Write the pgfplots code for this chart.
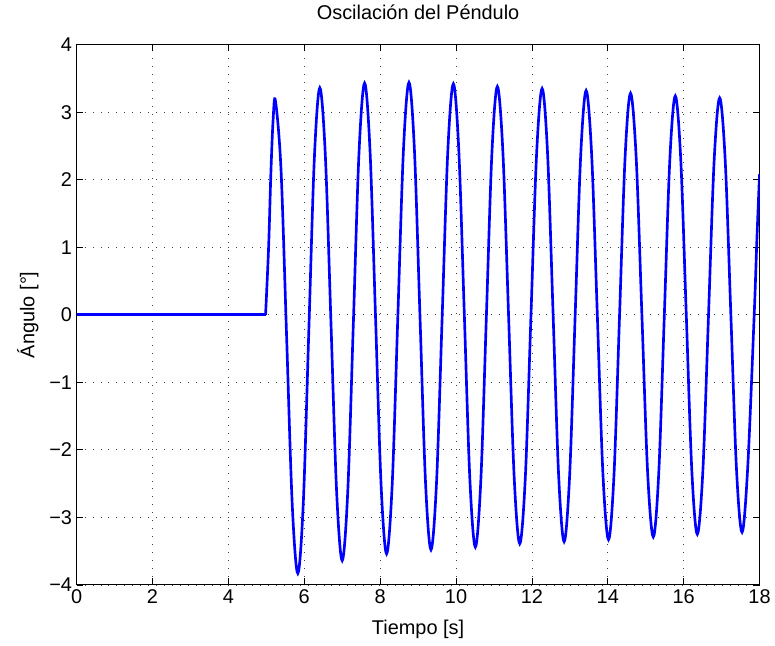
\documentclass[border=0pt]{standalone}
\usepackage{fontspec}
\setmainfont{Liberation Sans}
\usepackage{pgfplots}
\pgfplotsset{compat=1.18}

\begin{document}
\begin{tikzpicture}
\begin{axis}[
    scale only axis,
    width=514.5pt, height=407pt,
    xmin=0, xmax=18, ymin=-4, ymax=4,
    xtick={0,2,...,18},
    ytick={-4,-3,...,4},
    yticklabels={−4,−3,−2,−1,0,1,2,3,4},
    font=\fontsize{15}{18}\selectfont,
    /pgf/number format/assume math mode=true,
    tick align=inside,
    major tick length=5pt,
    tick style={black, line width=0.5pt},
    axis line style={black, line width=0.6pt},
    grid=major,
    major grid style={black!75, line width=0.5pt, dash pattern=on 0.6pt off 5.4pt},
    title={Oscilación del Péndulo},
    title style={at={(axis description cs:0.5,1.046)}, anchor=center},
    xlabel={Tiempo [s]},
    xlabel style={at={(axis description cs:0.5,-0.082)}, anchor=center},
    ylabel={Ángulo [°]},
    ylabel style={at={(axis description cs:-0.0715,0.5)}, anchor=center},
    clip=true,
  ]
  % flat part before the push
  \addplot[blue, line width=2pt] coordinates {(0,0) (4.98,0)};
  % oscillation
  \addplot[blue, line width=2pt, smooth, tension=0.55] coordinates {
    (4.98,0) (5.06,1.0) (5.12,2.1) (5.18,2.9) (5.24,3.17)
    (5.3875,2.145) (5.535,-0.33) (5.6825,-2.805) (5.83,-3.83)
    (5.975,-2.777) (6.12,-0.235) (6.265,2.307) (6.41,3.36)
    (6.5575,2.335) (6.705,-0.14) (6.8525,-2.615) (7.00,-3.64)
    (7.1475,-2.604) (7.295,-0.105) (7.4425,2.394) (7.59,3.43)
    (7.735,2.409) (7.88,-0.055) (8.025,-2.519) (8.17,-3.54)
    (8.3175,-2.517) (8.465,-0.05) (8.6125,2.417) (8.76,3.44)
    (8.905,2.426) (9.05,-0.02) (9.195,-2.466) (9.34,-3.48)
    (9.4875,-2.469) (9.635,-0.03) (9.7825,2.409) (9.93,3.42)
    (10.075,2.415) (10.22,-0.01) (10.365,-2.435) (10.51,-3.44)
    (10.655,-2.441) (10.80,-0.03) (10.945,2.381) (11.09,3.38)
    (11.2375,2.388) (11.385,-0.005) (11.5325,-2.398) (11.68,-3.39)
    (11.8275,-2.403) (11.975,-0.02) (12.1225,2.363) (12.27,3.35)
    (12.415,2.367) (12.56,-0.005) (12.705,-2.377) (12.85,-3.36)
    (12.995,-2.381) (13.14,-0.02) (13.285,2.341) (13.43,3.32)
    (13.5775,2.346) (13.725,-0.005) (13.8725,-2.356) (14.02,-3.33)
    (14.165,-2.362) (14.31,-0.025) (14.455,2.312) (14.60,3.28)
    (14.75,2.317) (14.90,-0.005) (15.05,-2.327) (15.20,-3.29)
    (15.345,-2.333) (15.49,-0.025) (15.635,2.283) (15.78,3.24)
    (15.925,2.289) (16.07,-0.005) (16.215,-2.299) (16.36,-3.25)
    (16.5075,-2.304) (16.655,-0.02) (16.8025,2.264) (16.95,3.21)
    (17.0975,2.268) (17.245,-0.005) (17.3925,-2.278) (17.54,-3.22)
    (17.69,-2.25) (17.86,0.0) (17.93,1.1) (18.0,2.08)
  };
\end{axis}
\path ([xshift=-57.75pt, yshift=-45.4pt]current axis.south west)
  rectangle ([xshift=9pt, yshift=30pt]current axis.north east);
\end{tikzpicture}
\end{document}
